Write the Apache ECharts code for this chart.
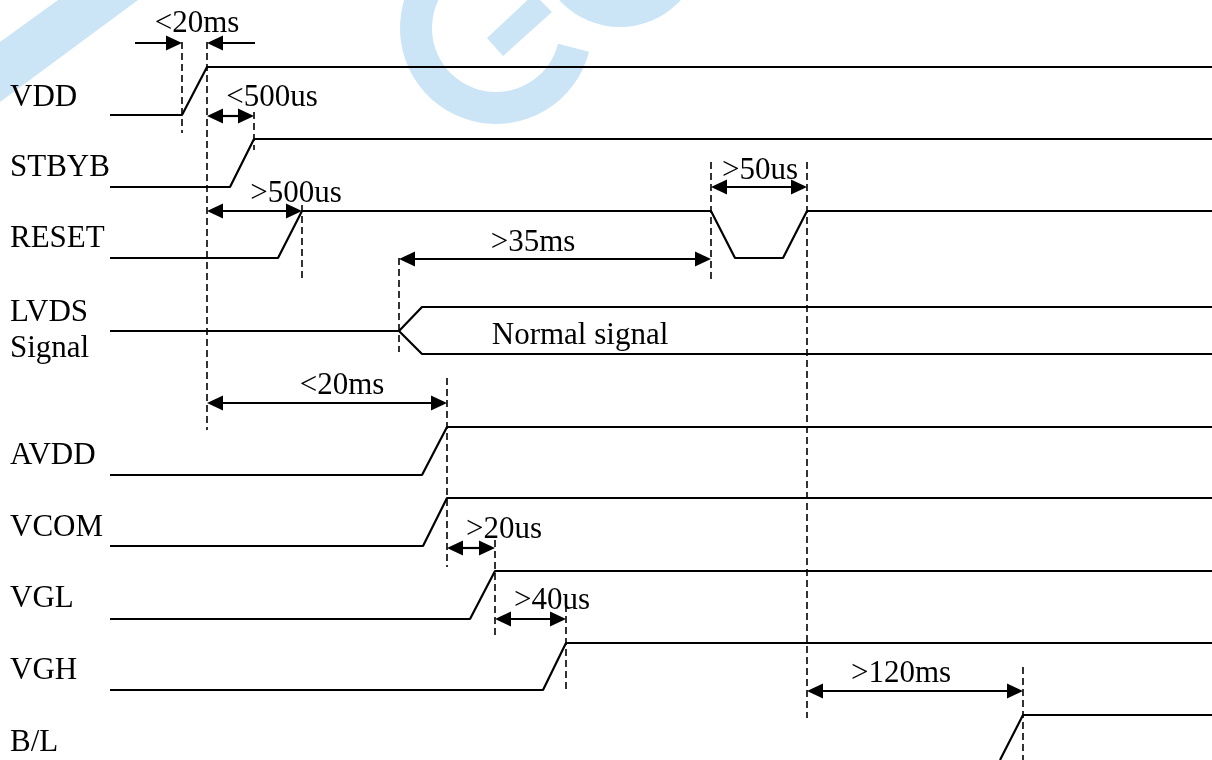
<!DOCTYPE html>
<html>
<head>
<meta charset="utf-8">
<script src="https://cdn.jsdelivr.net/npm/echarts/dist/echarts.min.js"></script>
<style>
html,body{margin:0;padding:0;background:#fff;}
#chart{width:1212px;height:760px;}
</style>
</head>
<body>
<div id="chart"></div>
<script>
// ---- signal names (left column) ----
const signalNames = ['VDD', 'STBYB', 'RESET', 'LVDS', 'Signal', 'AVDD', 'VCOM', 'VGL', 'VGH', 'B/L'];
const signalNameY = [97, 167, 238, 312, 348, 455, 527, 598, 670, 742];

// ---- waveforms: [time, level] in diagram units ----
const wfVDD   = [[110,115],[182,115],[207,67],[1212,67]];
const wfSTBYB = [[110,187],[230,187],[254,139],[1212,139]];
const wfRESET = [[110,258],[278,258],[302,211],[711,211],[735,258],[783,258],[807,211],[1212,211]];
const wfLVDS  = [[110,331],[399,331]];
const wfLVDSHi = [[399,331],[422,307],[1212,307]];
const wfLVDSLo = [[399,331],[422,354],[1212,354]];
const wfAVDD  = [[110,475],[422,475],[447,427],[1212,427]];
const wfVCOM  = [[110,546],[423,546],[447,498],[1212,498]];
const wfVGL   = [[110,619],[470,619],[495,571],[1212,571]];
const wfVGH   = [[110,690],[543,690],[566,643],[1212,643]];
const wfBL    = [[1000,760],[1023,715],[1212,715]];

// ---- dashed timing markers ----
const dashX      = [182, 207, 254, 302, 399, 711, 807, 447, 495, 566, 1023];
const dashTop    = [42,  42,  112, 205, 258, 162, 162, 378, 540, 605, 667];
const dashBottom = [133, 430, 150, 278, 352, 282, 718, 567, 637, 692, 760];

// ---- double-headed spans ----
const spanFrom = [207, 207, 399, 711, 207, 447, 495, 807];
const spanTo   = [254, 302, 711, 807, 447, 495, 566, 1023];
const spanY    = [116, 211, 259, 187, 403, 548, 619, 691];

// ---- single-headed (inward) arrows ----
const inFrom = [135, 255];
const inTo   = [182, 207];
const inY    = [43, 43];

// ---- annotation texts ----
const annoText = ['<20ms', '<500us', '>500us', '>50us', '>35ms', 'Normal signal', '<20ms', '>20us', '>40us', '>120ms'];
const annoX    = [197, 272, 296, 760, 533, 580, 342, 504, 552, 901];
const annoY    = [24, 98, 194, 171, 243, 336, 386, 530, 601, 674];

const FONT = '31px "Liberation Serif", "Times New Roman", serif';
const WM = '#cbe5f6';

function wave(data) {
  return {
    type: 'line', data: data, symbol: 'none', showSymbol: false, silent: true,
    lineStyle: { color: '#000', width: 2.2 }, z: 3, clip: false
  };
}

function arrowGroup(api, x1, x2, y, headFrom, headTo) {
  const a = api.coord([x1, y]), b = api.coord([x2, y]);
  const dir = Math.sign(b[0] - a[0]) || 1;
  const L = 16, H = 7.5;
  const sx = a[0] + (headFrom ? dir * L * 0.6 : 0);
  const ex = b[0] - (headTo ? dir * L * 0.6 : 0);
  const ch = [{ type: 'line', shape: { x1: sx, y1: a[1], x2: ex, y2: b[1] }, style: { stroke: '#000', lineWidth: 2.2 } }];
  if (headFrom) ch.push({ type: 'polygon', shape: { points: [[a[0], a[1]], [a[0] + dir * L, a[1] - H], [a[0] + dir * L, a[1] + H]] }, style: { fill: '#000' } });
  if (headTo) ch.push({ type: 'polygon', shape: { points: [[b[0], b[1]], [b[0] - dir * L, b[1] - H], [b[0] - dir * L, b[1] + H]] }, style: { fill: '#000' } });
  return { type: 'group', children: ch };
}

const chart = echarts.init(document.getElementById('chart'), null, { renderer: 'canvas' });
chart.setOption({
  animation: false,
  backgroundColor: '#fff',
  grid: { left: 0, right: 0, top: 0, bottom: 0 },
  xAxis: { type: 'value', min: 0, max: 1212, show: false },
  yAxis: { type: 'value', min: 0, max: 760, inverse: true, show: false },
  graphic: [
    { type: 'polygon', z: -10, shape: { points: [[0, 42], [58, 0], [138, 0], [0, 102]] }, style: { fill: WM } },
    { type: 'sector', z: -10, shape: { cx: 496, cy: 28, r0: 64, r: 96, startAngle: 0.25, endAngle: 4.2, clockwise: true }, style: { fill: WM } },
    { type: 'polygon', z: -10, shape: { points: [[487, 38], [503, 56], [552, 12], [534, -6]] }, style: { fill: WM } },
    { type: 'circle', z: -10, shape: { cx: 620, cy: -55, r: 82 }, style: { fill: WM } }
  ],
  series: [
    wave(wfVDD), wave(wfSTBYB), wave(wfRESET), wave(wfLVDS), wave(wfLVDSHi), wave(wfLVDSLo),
    wave(wfAVDD), wave(wfVCOM), wave(wfVGL), wave(wfVGH), wave(wfBL),
    {
      type: 'custom', silent: true, z: 2,
      data: dashX.map((x, i) => [x, dashTop[i], dashBottom[i]]),
      renderItem: function (params, api) {
        const p1 = api.coord([api.value(0), api.value(1)]);
        const p2 = api.coord([api.value(0), api.value(2)]);
        return { type: 'line', shape: { x1: p1[0], y1: p1[1], x2: p2[0], y2: p2[1] },
          style: { stroke: '#000', lineWidth: 1.6, lineDash: [7, 4] } };
      }
    },
    {
      type: 'custom', silent: true, z: 4,
      data: spanFrom.map((x, i) => [x, spanTo[i], spanY[i]]),
      renderItem: function (params, api) {
        return arrowGroup(api, api.value(0), api.value(1), api.value(2), true, true);
      }
    },
    {
      type: 'custom', silent: true, z: 4,
      data: inFrom.map((x, i) => [x, inTo[i], inY[i]]),
      renderItem: function (params, api) {
        return arrowGroup(api, api.value(0), api.value(1), api.value(2), false, true);
      }
    },
    {
      type: 'custom', silent: true, z: 5,
      data: annoText.map((t, i) => [annoX[i], annoY[i], t]),
      renderItem: function (params, api) {
        const p = api.coord([api.value(0), api.value(1)]);
        return { type: 'text', x: p[0], y: p[1],
          style: { text: annoText[params.dataIndex], font: FONT, fill: '#000', align: 'center', verticalAlign: 'middle' } };
      }
    },
    {
      type: 'custom', silent: true, z: 5,
      data: signalNames.map((t, i) => [10, signalNameY[i], t]),
      renderItem: function (params, api) {
        const p = api.coord([api.value(0), api.value(1)]);
        return { type: 'text', x: p[0], y: p[1] + 1,
          style: { text: signalNames[params.dataIndex], font: FONT, fill: '#000', align: 'left', verticalAlign: 'middle' } };
      }
    }
  ]
});
</script>
</body>
</html>
